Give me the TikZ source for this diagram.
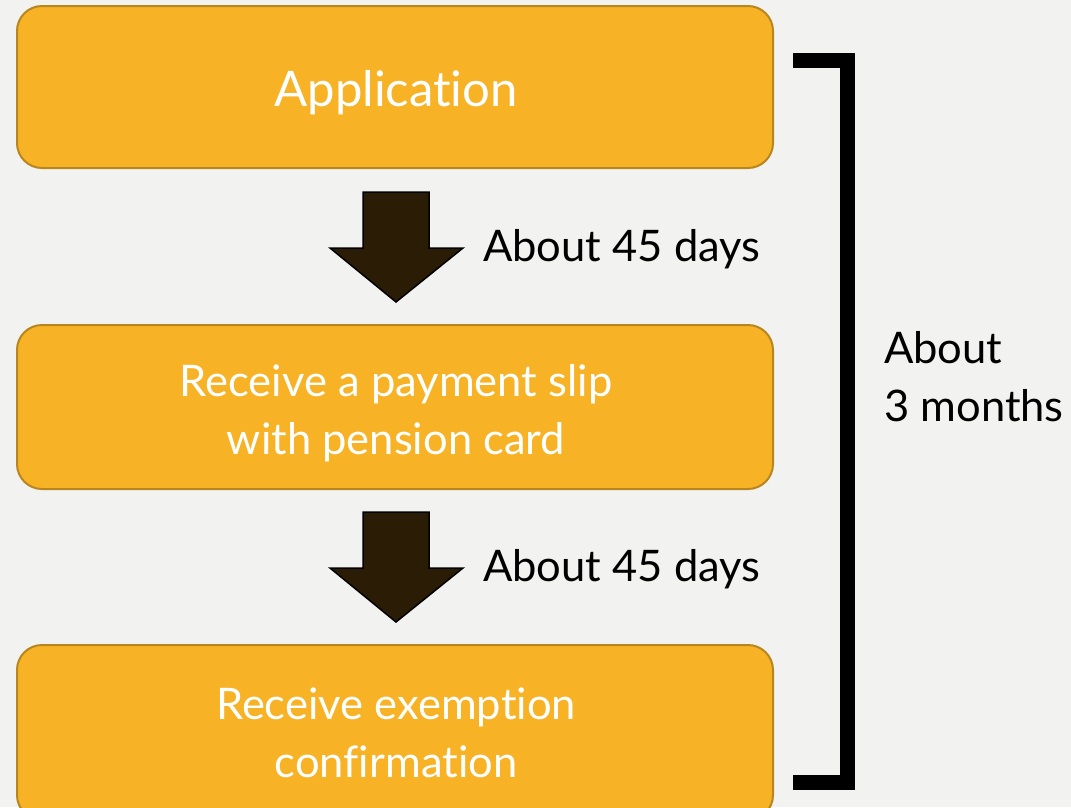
\documentclass[tikz,border=0pt]{standalone}
\usepackage{fontspec}
\setmainfont[Ligatures=NoCommon]{Lato}
\definecolor{bg}{HTML}{F2F2F0}
\definecolor{boxfill}{HTML}{F7B325}
\definecolor{boxline}{HTML}{B8861F}
\definecolor{arrowfill}{HTML}{2B1D05}
\begin{document}
\begin{tikzpicture}[x=1pt,y=-1pt,
  stepbox/.style={draw=boxline,line width=2pt,fill=boxfill,rounded corners=25pt},
  boxtext/.style={text=white,font=\fontsize{43.5}{58}\selectfont,align=center},
  sidetext/.style={text=black,font=\fontsize{43.5}{58}\selectfont,align=left,anchor=west,inner sep=0pt},
  downarrow/.style={draw=black,line width=1.5pt,fill=arrowfill,line join=miter}]
\useasboundingbox (0,0) rectangle (1071,807);
\fill[bg] (0,0) rectangle (1071,807);
% boxes
\draw[stepbox] (17,6) rectangle (773,168);
\draw[stepbox] (17,325) rectangle (773,489);
\draw[stepbox] (17,645) rectangle (773,820);
\node[boxtext,font=\fontsize{49}{58}\selectfont] (app) at (396,93) {Application};
\node[boxtext] (slip) at (396,413) {Receive a payment slip\\with pension card};
\node[boxtext] (conf) at (396,733) {Receive exemption\\confirmation};
% arrows
\draw[downarrow] (363,192) -- (429,192) -- (429,248) -- (463,248) -- (396,302) -- (330,248) -- (363,248) -- cycle;
\draw[downarrow] (363,512) -- (429,512) -- (429,568) -- (463,568) -- (396,622) -- (330,568) -- (363,568) -- cycle;
\node[sidetext] (d1) at (483,249) {About 45 days};
\node[sidetext] (d2) at (483,569) {About 45 days};
% bracket
\draw[line width=15pt,line join=miter] (793,60) -- (847,60) -- (847,782) -- (793,782);
\node[sidetext] (tot) at (884,377) {About\\3 months};
\end{tikzpicture}
\end{document}
